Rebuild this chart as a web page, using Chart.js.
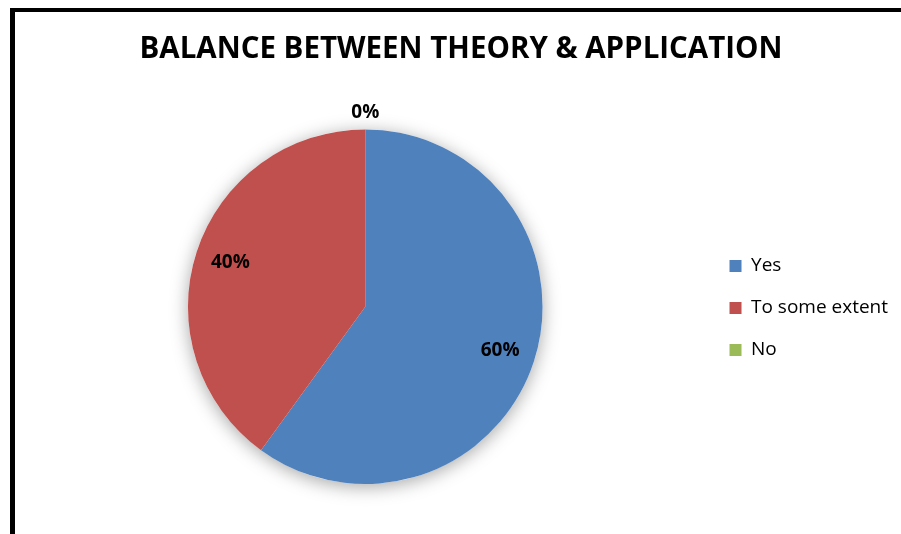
<!DOCTYPE html>
<html>
<head>
<meta charset="utf-8">
<script src="https://cdn.jsdelivr.net/npm/chart.js@4"></script>
<style>
  html, body { margin: 0; padding: 0; background: #fff; }
  #frame { position: absolute; left: 10px; top: 8px; width: 900px; height: 540px;
           border-left: 5px solid #000; border-top: 4px solid #000; }
  #wrap { position: absolute; left: 0; top: 0; width: 901px; height: 534px; }
</style>
</head>
<body>
<div id="frame"></div>
<div id="wrap"><canvas id="pie"></canvas></div>
<script>
var answers = ['Yes', 'To some extent', 'No'];
var shares = [60, 40, 0];
var colours = ['#4F81BD', '#C0504D', '#9BBB59'];

// soft shadow under the pie
var pieShadow = {
    id: 'pieShadow',
    beforeDatasetsDraw: function (chart) {
        var arc = chart.getDatasetMeta(0).data[0];
        if (!arc) return;
        var ctx = chart.ctx;
        ctx.save();
        ctx.shadowColor = 'rgba(0,0,0,0.35)';
        ctx.shadowBlur = 18;
        ctx.shadowOffsetY = 3;
        ctx.fillStyle = '#fff';
        ctx.beginPath();
        ctx.arc(arc.x, arc.y, arc.outerRadius, 0, Math.PI * 2);
        ctx.fill();
        ctx.restore();
    }
};

// percentage labels, inside the slice, outside when the slice is empty
var pctLabels = {
    id: 'pctLabels',
    afterDatasetsDraw: function (chart) {
        var ctx = chart.ctx;
        var data = chart.data.datasets[0].data;
        var total = data.reduce(function (a, b) { return a + b; }, 0);
        ctx.save();
        ctx.font = 'bold 19px "Open Sans"';
        ctx.fillStyle = '#000';
        ctx.textAlign = 'center';
        ctx.textBaseline = 'middle';
        chart.getDatasetMeta(0).data.forEach(function (arc, i) {
            var mid = (arc.startAngle + arc.endAngle) / 2;
            var r = data[i] > 0 ? arc.outerRadius * 0.8 : arc.outerRadius + 17;
            var x = arc.x + Math.cos(mid) * r;
            var y = arc.y + Math.sin(mid) * r;
            ctx.fillText(Math.round(data[i] / total * 100) + '%', x, y);
        });
        ctx.restore();
    }
};

var ctx = document.getElementById('pie').getContext('2d');
var myChart = new Chart(ctx, {
    type: 'pie',
    data: {
        labels: answers,
        datasets: [
            {
                data: shares,
                backgroundColor: colours,
                borderWidth: 0,
                hoverOffset: 0,
            },
        ],
    },
    options: {
        responsive: true,
        maintainAspectRatio: false,
        animation: false,
        layout: {
            padding: { left: 24, right: 3, top: 0, bottom: 50 },
        },
        plugins: {
            title: {
                display: true,
                text: 'BALANCE BETWEEN THEORY & APPLICATION',
                color: '#000',
                font: { family: '"Open Sans"', size: 29.5, weight: 'bold', lineHeight: 1.2 },
                padding: { top: 32, bottom: 62 },
            },
            legend: {
                position: 'right',
                align: 'center',
                // empty legend title only pushes the items down to the pie's middle
                title: {
                    display: true,
                    text: '',
                    font: { size: 10, lineHeight: 1 },
                    padding: { top: 122, bottom: 0 },
                },
                labels: {
                    color: '#000',
                    boxWidth: 12,
                    boxHeight: 12,
                    padding: 23,
                    font: { family: '"Open Sans"', size: 19 },
                },
            },
            tooltip: { enabled: false },
        },
    },
    plugins: [pieShadow, pctLabels],
});
</script>
</body>
</html>
